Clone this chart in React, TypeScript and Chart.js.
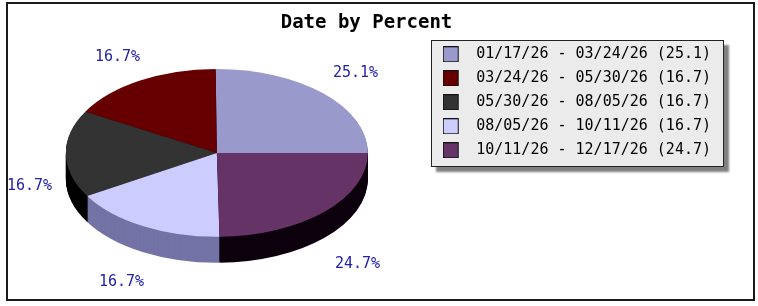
import React, { useEffect, useRef } from 'react';
import { Chart, registerables } from 'chart.js';

Chart.register(...registerables);

// ---- data ----
const chartTitle = 'Date by Percent';
const rangeStarts = ['01/17/26', '03/24/26', '05/30/26', '08/05/26', '10/11/26'];
const rangeEnds = ['03/24/26', '05/30/26', '08/05/26', '10/11/26', '12/17/26'];
const values = [25.1, 16.7, 16.7, 16.7, 24.7];
const sliceColors = ['#9999cc', '#660000', '#333333', '#ccccff', '#663366'];

// ---- style ----
const FONT_MONO = '"DejaVu Sans Mono", "Liberation Mono", monospace';
const SQUASH = 0.556;
const DEPTH = 26;
const SIDE_SHADE = 89;
const LABEL_COLOR = '#2222aa';
const LABEL_H = 14;
const TITLE_SHIFT = 12;

function shade(hex: string, amt: number): string {
  const n = parseInt(hex.slice(1), 16);
  const r = Math.max(0, ((n >> 16) & 255) - amt);
  const g = Math.max(0, ((n >> 8) & 255) - amt);
  const b = Math.max(0, (n & 255) - amt);
  return `rgb(${r},${g},${b})`;
}

function swatch(color: string): HTMLCanvasElement {
  const c = document.createElement('canvas');
  c.width = 26;
  c.height = 16;
  const g = c.getContext('2d')!;
  g.fillStyle = color;
  g.fillRect(0, 0, 16, 16);
  g.strokeStyle = '#111';
  g.lineWidth = 1;
  g.strokeRect(0.5, 0.5, 15, 15);
  return c;
}

function labelAlign(a: number) {
  const P = Math.PI;
  let dx = 0;
  let dy = 0;
  if (a >= (7 * P) / 4 || a <= P / 4) dx = 0;
  if (a >= P / 4 && a <= (3 * P) / 4) dx = ((a - P / 4) * 2) / P;
  if (a >= (3 * P) / 4 && a <= (5 * P) / 4) dx = 1;
  if (a >= (5 * P) / 4 && a <= (7 * P) / 4) dx = 1 - ((a - (5 * P) / 4) * 2) / P;
  if (a >= (7 * P) / 4) dy = ((a - (7 * P) / 4) * 2) / P;
  if (a <= P / 4) dy = 0.5 + (a * 2) / P;
  if (a >= P / 4 && a <= (3 * P) / 4) dy = 1;
  if (a >= (3 * P) / 4 && a <= (5 * P) / 4) dy = 1 - ((a - (3 * P) / 4) * 2) / P;
  if (a >= (5 * P) / 4 && a <= (7 * P) / 4) dy = 0;
  return { dx, dy };
}

const pie3d = {
  id: 'pie3d',
  afterLayout(chart: any) {
    const tb = chart.titleBlock;
    if (tb) tb.left += TITLE_SHIFT;
  },
  beforeDraw(chart: any) {
    const { ctx, width, height } = chart;
    ctx.save();
    ctx.fillStyle = '#ffffff';
    ctx.fillRect(0, 0, width, height);
    ctx.strokeStyle = '#1a1a1a';
    ctx.lineWidth = 2;
    ctx.strokeRect(7, 3, width - 11, height - 9);

    const hb = chart.legend && chart.legend.legendHitBoxes;
    if (hb && hb.length) {
      const l = Math.round(Math.min(...hb.map((h: any) => h.left)) - 12);
      const t = Math.round(hb[0].top - 7);
      const r = Math.round(Math.max(...hb.map((h: any) => h.left + h.width)) + 13);
      const last = hb[hb.length - 1];
      const b = Math.round(last.top + last.height + 9);
      ctx.save();
      ctx.shadowColor = 'rgba(0,0,0,0.5)';
      ctx.shadowOffsetX = 5;
      ctx.shadowOffsetY = 5;
      ctx.shadowBlur = 2;
      ctx.fillStyle = '#ebebeb';
      ctx.fillRect(l, t, r - l, b - t);
      ctx.restore();
      ctx.strokeStyle = '#222';
      ctx.lineWidth = 1;
      ctx.strokeRect(l + 0.5, t + 0.5, r - l - 1, b - t - 1);
    }
    ctx.restore();
  },
  beforeDatasetsDraw(chart: any) {
    const meta = chart.getDatasetMeta(0);
    const arcs = meta.data;
    if (!arcs.length) return false;
    const ctx = chart.ctx;
    const cx = arcs[0].x;
    const cy = arcs[0].y;
    const topY = cy - DEPTH / 2;
    const drawLayer = (dy: number, side: boolean) => {
      ctx.save();
      ctx.translate(cx, topY + dy);
      ctx.scale(-1, SQUASH);
      ctx.translate(-cx, -cy);
      arcs.forEach((arc: any, i: number) => {
        if (side) {
          const o = arc.options;
          arc.options = Object.assign({}, o, { backgroundColor: shade(sliceColors[i], SIDE_SHADE) });
          arc.draw(ctx);
          arc.options = o;
        } else {
          arc.draw(ctx);
        }
      });
      ctx.restore();
    };
    for (let dy = DEPTH; dy > 0; dy--) drawLayer(dy, true);
    drawLayer(0, false);
    return false;
  },
  afterDraw(chart: any) {
    const meta = chart.getDatasetMeta(0);
    const arcs = meta.data;
    if (!arcs.length) return;
    const ctx = chart.ctx;
    const total = values.reduce((s, v) => s + v, 0);
    const cx = arcs[0].x;
    const cy = arcs[0].y;
    const R = arcs[0].outerRadius;
    const topY = cy - DEPTH / 2;
    ctx.save();
    ctx.font = `15px ${FONT_MONO}`;
    ctx.fillStyle = LABEL_COLOR;
    ctx.textBaseline = 'middle';
    ctx.textAlign = 'left';
    arcs.forEach((arc: any, i: number) => {
      const phi = (arc.startAngle + arc.endAngle) / 2;
      let a = (phi + Math.PI) % (2 * Math.PI);
      if (a < 0) a += 2 * Math.PI;
      const text = ((values[i] / total) * 100).toFixed(1) + '%';
      const w = ctx.measureText(text).width;
      const ax = cx + (R + 14) * Math.cos(a);
      let ay = topY - (R * SQUASH + 19) * Math.sin(a);
      if (Math.sin(a) < 0) ay += DEPTH + 6;
      const { dx, dy } = labelAlign(a);
      ctx.fillText(text, Math.round(ax - dx * w), Math.round(ay - dy * LABEL_H + LABEL_H / 2));
    });
    ctx.restore();
  },
};

export default function App() {
  const ref = useRef<HTMLCanvasElement | null>(null);
  useEffect(() => {
    if (!ref.current) return;
    const chart = new Chart(ref.current, {
      type: 'pie',
      data: {
        labels: rangeStarts.map((s, i) => `${s} - ${rangeEnds[i]}`),
        datasets: [
          {
            data: values,
            backgroundColor: sliceColors,
            borderWidth: 0,
            radius: 151,
          } as any,
        ],
      },
      options: {
        responsive: false,
        animation: false,
        events: [],
        rotation: 270,
        layout: { padding: { left: 0, right: 37, top: 0, bottom: 12 } },
        plugins: {
          title: {
            display: true,
            text: chartTitle,
            color: '#000',
            font: { family: FONT_MONO, size: 19, weight: 'bold' },
            padding: { top: 12, bottom: 3 },
          },
          legend: {
            position: 'right',
            align: 'start',
            fullSize: false,
            labels: {
              usePointStyle: true,
              pointStyleWidth: 26,
              padding: 9,
              color: '#000',
              font: { family: FONT_MONO, size: 15 },
              generateLabels: () =>
                values.map((v, i) => ({
                  text: `${rangeStarts[i]} - ${rangeEnds[i]} (${v.toFixed(1)})`,
                  fillStyle: sliceColors[i],
                  strokeStyle: '#000',
                  lineWidth: 0,
                  fontColor: '#000',
                  pointStyle: swatch(sliceColors[i]),
                  hidden: false,
                  index: i,
                })) as any,
            },
          },
          tooltip: { enabled: false },
        },
      } as any,
      plugins: [pie3d],
    });
    return () => chart.destroy();
  }, []);
  return (
    <div style={{ position: 'absolute', left: 0, top: 0, width: 758, height: 306 }}>
      <canvas ref={ref} width={758} height={306} />
    </div>
  );
}
